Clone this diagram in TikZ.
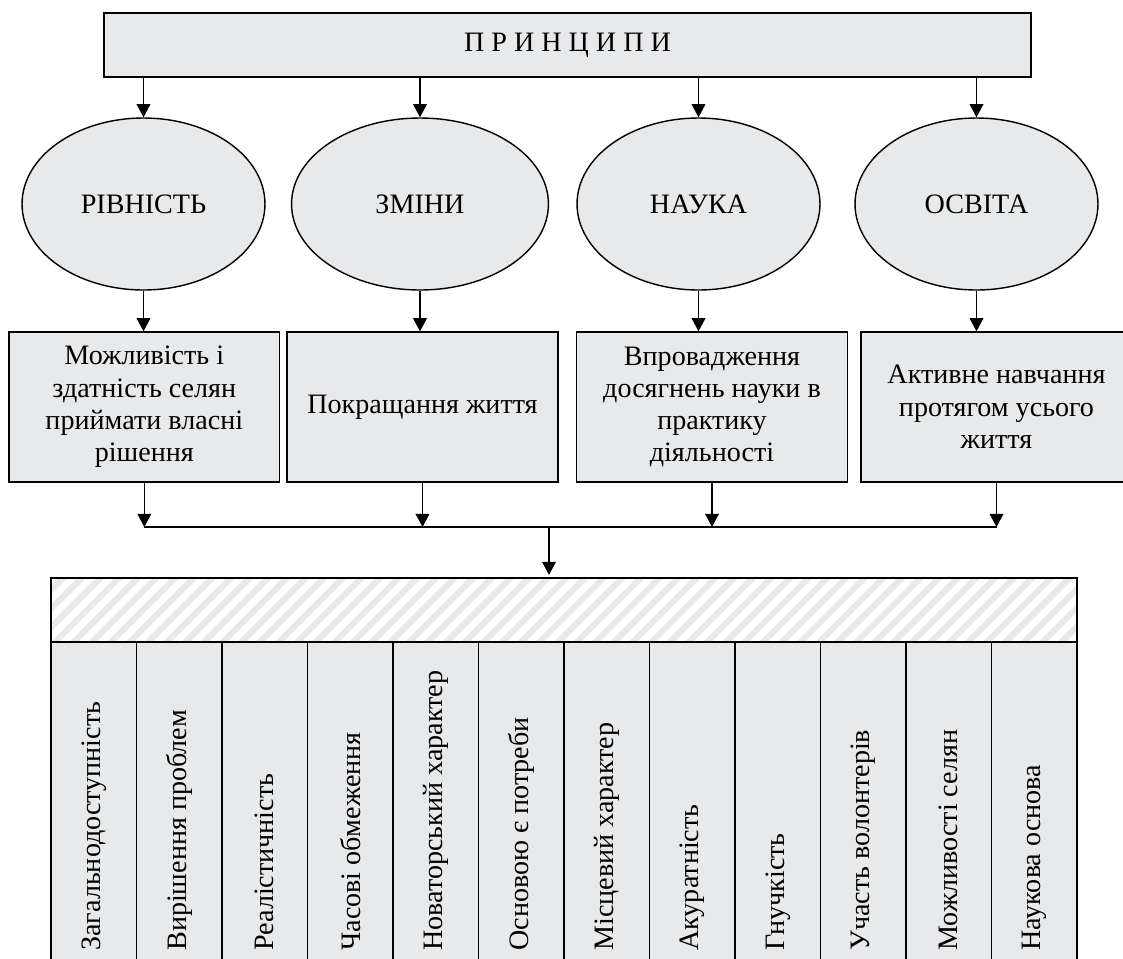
\documentclass[tikz,border=0pt]{standalone}
\usepackage{fontspec}
\setmainfont{Liberation Serif}
\usetikzlibrary{positioning, shapes.geometric, arrows.meta, patterns.meta}
\definecolor{boxgray}{RGB}{232,233,235}
\definecolor{stripe}{RGB}{232,233,235}

\begin{document}
\begin{tikzpicture}[x=0.02cm, y=-0.02cm,
		every node/.style={font=\fontsize{16}{18.4}\selectfont},
		head/.style={draw, thick, fill=boxgray, rectangle, minimum width=18.54cm, minimum height=1.28cm},
		oval/.style={draw, thick, fill=boxgray, ellipse, inner sep=0pt, minimum width=4.86cm, minimum height=3.44cm},
		box/.style={draw, thick, fill=boxgray, rectangle, align=center, minimum width=5.42cm, minimum height=3cm},
		bar/.style={draw, thick, rectangle, pattern={Lines[angle=45, distance=7.5pt, line width=3.5pt]}, pattern color=stripe, minimum width=20.52cm, minimum height=1.28cm},
		col/.style={draw, thick, fill=boxgray, rectangle, inner sep=0pt, minimum width=1.71cm, minimum height=7.16cm},
		vtext/.style={rotate=90, anchor=west, inner sep=0pt},
		arr/.style={thick, -{Triangle[length=7.5pt, width=7.8pt]}}
		]
		\useasboundingbox (0,0) rectangle (1123,958);
		\clip (0,0) rectangle (1123,958);

		\node[head] (P) at (567.5,45) {П Р И Н Ц И П И};

		\node[oval] (E1) at (143.5,204) {РІВНІСТЬ};
		\node[oval, minimum width=5.14cm] (E2) at (420,204) {ЗМІНИ};
		\node[oval] (E3) at (698.5,204) {НАУКА};
		\node[oval] (E4) at (976.5,204) {ОСВІТА};

		\node[box] (B1) at (144.3,407) {Можливість і\\здатність селян\\приймати власні\\рішення};
		\node[box] (B2) at (422.5,407) {Покращання життя};
		\node[box] (B3) at (712,407) {Впровадження\\досягнень науки в\\практику\\діяльності};
		\node[box] (B4) at (996.5,407) {Активне навчання\\протягом усього\\життя};

		\coordinate (J) at (549,527);
		\node[bar] (R) at (564,610) {};

		% columns
		\node[col] (C1) at (93.75,821) {};
		\node[col] (C2) at (179.25,821) {};
		\node[col] (C3) at (264.75,821) {};
		\node[col] (C4) at (350.25,821) {};
		\node[col] (C5) at (435.75,821) {};
		\node[col] (C6) at (521.25,821) {};
		\node[col] (C7) at (606.75,821) {};
		\node[col] (C8) at (692.25,821) {};
		\node[col] (C9) at (777.75,821) {};
		\node[col] (C10) at (863.25,821) {};
		\node[col] (C11) at (948.75,821) {};
		\node[col] (C12) at (1034.25,821) {};

		\node[vtext] (T1) at (C1 |- 0,951) {Загальнодоступність};
		\node[vtext] (T2) at (C2 |- 0,951) {Вирішення проблем};
		\node[vtext] (T3) at (C3 |- 0,951) {Реалістичність};
		\node[vtext] (T4) at (C4 |- 0,951) {Часові обмеження};
		\node[vtext] (T5) at (C5 |- 0,951) {Новаторський характер};
		\node[vtext] (T6) at (C6 |- 0,951) {Основою є потреби};
		\node[vtext] (T7) at (C7 |- 0,951) {Місцевий характер};
		\node[vtext] (T8) at (C8 |- 0,951) {Акуратність};
		\node[vtext] (T9) at (C9 |- 0,951) {Гнучкість};
		\node[vtext] (T10) at (C10 |- 0,951) {Участь волонтерів};
		\node[vtext] (T11) at (C11 |- 0,951) {Можливості селян};
		\node[vtext] (T12) at (C12 |- 0,951) {Наукова основа};

		% arrows
		\draw[arr] (P.south -| E1.north) -- (E1.north);
		\draw[arr] (P.south -| E2.north) -- (E2.north);
		\draw[arr] (P.south -| E3.north) -- (E3.north);
		\draw[arr] (P.south -| E4.north) -- (E4.north);

		\draw[arr] (E1.south) -- (E1.south |- B1.north);
		\draw[arr] (E2.south) -- (E2.south |- B2.north);
		\draw[arr] (E3.south) -- (E3.south |- B3.north);
		\draw[arr] (E4.south) -- (E4.south |- B4.north);

		\draw[arr] (B1.south) -- (B1.south |- J);
		\draw[arr] (B2.south) -- (B2.south |- J);
		\draw[arr] (B3.south) -- (B3.south |- J);
		\draw[arr] (B4.south) -- (B4.south |- J);
		\draw[thick] (B1.south |- J) -- (B4.south |- J);
		\draw[arr] (J) -- (J |- R.north);
	\end{tikzpicture}
\end{document}
